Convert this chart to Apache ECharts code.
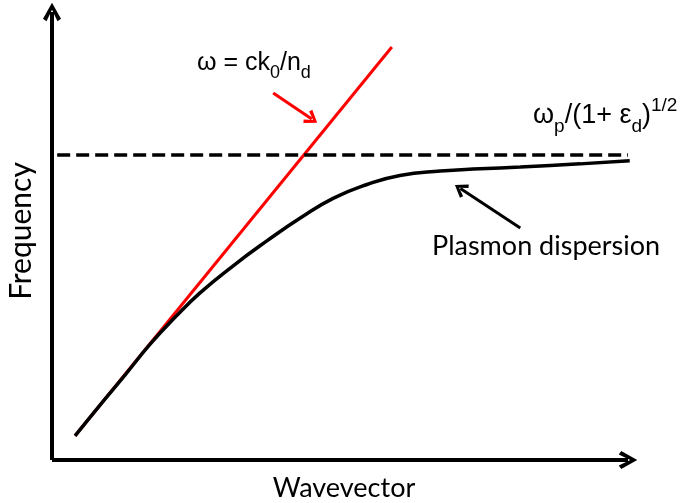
<!DOCTYPE html>
<html>
<head>
<meta charset="utf-8">
<script src="https://cdn.jsdelivr.net/npm/echarts@6/dist/echarts.min.js"></script>
<style>
  html, body { margin: 0; padding: 0; background: #ffffff; }
  #chart { width: 684px; height: 503px; }
</style>
</head>
<body>
<div id="chart"></div>
<script>
// Light line in the dielectric, omega = c k0 / n_d (arbitrary units)
const lightLine = [[0.40, 0.54], [5.90, 9.22]];

// Surface plasmon dispersion curve (arbitrary units)
const plasmonCurve = [
  [0.40, 0.54], [0.83, 1.22], [1.27, 1.90], [1.70, 2.58], [2.14, 3.19],
  [2.57, 3.73], [3.14, 4.33], [3.73, 4.89], [4.31, 5.40], [4.88, 5.84],
  [5.47, 6.15], [6.04, 6.35], [6.74, 6.45], [7.43, 6.50], [8.13, 6.54],
  [9.17, 6.61], [10.03, 6.68]
];

// Asymptotic frequency omega_p / sqrt(1 + eps_d)
const asymptoteLevel = 6.81;
const asymptoteSpan = [0.09, 10.0];

// Annotation pointers: [tail, head]
const lightPointer = [[3.84, 8.19], [4.51, 7.61]];
const plasmonPointer = [[8.13, 5.18], [7.09, 6.06]];

// Open chevron arrowhead, pointing up
const chevron = 'path://M10,0 L19,16 L15.5,18.5 L10,7 L4.5,18.5 L1,16 Z';

const chart = echarts.init(document.getElementById('chart'), null, { renderer: 'canvas' });

const axisCommon = {
  type: 'value',
  min: 0,
  max: 10,
  axisTick: { show: false },
  axisLabel: { show: false },
  splitLine: { show: false },
  nameLocation: 'middle',
  axisLine: {
    show: true,
    onZero: false,
    symbol: ['none', chevron],
    symbolSize: [18, 18.5],
    lineStyle: { color: '#000', width: 4, cap: 'butt' }
  }
};

const mathFont = 'Liberation Sans';

chart.setOption({
  animation: false,
  backgroundColor: '#ffffff',
  grid: { left: 52, right: 56, top: 12, bottom: 43, containLabel: false, outerBoundsMode: 'none' },
  xAxis: Object.assign({}, axisCommon, {
    name: 'Wavevector', nameGap: 15,
    nameTextStyle: { fontFamily: 'Lato', fontSize: 27, color: '#000', padding: [0, 0, 0, 8] }
  }),
  yAxis: Object.assign({}, axisCommon, {
    name: 'Frequency', nameGap: 16,
    nameTextStyle: { fontFamily: 'Lato', fontSize: 30, color: '#000', padding: [0, 0, 0, 10] }
  }),
  series: [
    {
      type: 'line',
      data: lightLine,
      showSymbol: false,
      clip: false,
      lineStyle: { color: '#ff0000', width: 3 },
      markLine: {
        silent: true,
        symbol: ['none', chevron],
        symbolSize: [16, 13],
        label: { show: false },
        lineStyle: { color: '#ff0000', width: 3, type: 'solid' },
        data: [[{ coord: lightPointer[0] }, { coord: lightPointer[1] }]]
      }
    },
    {
      type: 'line',
      data: plasmonCurve,
      smooth: 0.5,
      showSymbol: false,
      clip: false,
      lineStyle: { color: '#000000', width: 3.5 },
      markLine: {
        silent: true,
        symbol: ['none', chevron],
        symbolSize: [16, 13],
        label: { show: false },
        lineStyle: { color: '#000000', width: 3, type: 'solid' },
        data: [[{ coord: plasmonPointer[0] }, { coord: plasmonPointer[1] }]]
      }
    },
    {
      type: 'line',
      data: [[asymptoteSpan[0], asymptoteLevel], [asymptoteSpan[1], asymptoteLevel]],
      showSymbol: false,
      clip: false,
      lineStyle: { color: '#000000', width: 3.5, type: [13, 6] }
    }
  ],
  graphic: [
    {
      type: 'text',
      x: 197, y: 51,
      style: {
        text: '{m|ω = ck}{s|0}{m|/n}{s|d}',
        fill: '#000',
        rich: {
          m: { fontFamily: mathFont, fontSize: 25, padding: [0, 0, 6, 0], verticalAlign: 'bottom' },
          s: { fontFamily: mathFont, fontSize: 18, verticalAlign: 'bottom' }
        }
      }
    },
    {
      type: 'text',
      x: 533, y: 96,
      style: {
        text: '{m|ω}{s|p}{m|/(1+ ε}{s|d}{m|)}{u|1/2}',
        fill: '#000',
        rich: {
          m: { fontFamily: mathFont, fontSize: 27, padding: [0, 0, 7, 0], verticalAlign: 'bottom' },
          s: { fontFamily: mathFont, fontSize: 19, verticalAlign: 'bottom' },
          u: { fontFamily: mathFont, fontSize: 19, padding: [0, 0, 21, 0], verticalAlign: 'bottom' }
        }
      }
    },
    {
      type: 'text',
      x: 432, y: 233,
      style: {
        text: 'Plasmon dispersion',
        fill: '#000',
        fontFamily: 'Lato',
        fontSize: 27
      }
    }
  ]
});
</script>
</body>
</html>
